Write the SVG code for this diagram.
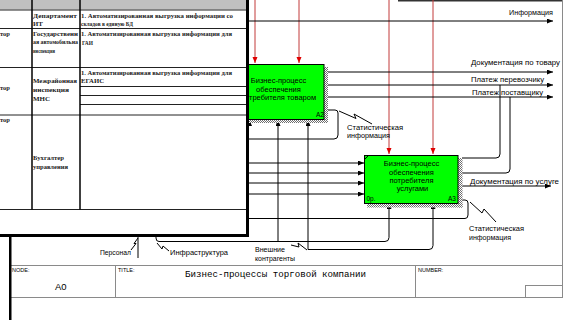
<svg xmlns="http://www.w3.org/2000/svg" width="576" height="320" viewBox="0 0 576 320">
<style>
.ln{fill:none;stroke:#000;stroke-width:1}
.ctl{fill:none;stroke:#c23b3b;stroke-width:1}
.lbl{font-family:"Liberation Sans",Arial,sans-serif;font-size:7.5px;fill:#000}
.box{fill:#00ff00;stroke:#000;stroke-width:1}
.btx{font-family:"Liberation Sans",Arial,sans-serif;font-size:7.5px;fill:#000;text-anchor:middle}
.bno{font-family:"Liberation Sans",Arial,sans-serif;font-size:6.5px;fill:#000}
.frm{fill:none;stroke:#8a8a8a;stroke-width:1}
.sm{font-family:"Liberation Sans",Arial,sans-serif;font-size:5.5px;fill:#000}
.tb{font-family:"Liberation Serif","Times New Roman",serif;font-size:6.8px;font-weight:bold;fill:#1a1a1a}
.grid{stroke:#222;stroke-width:1;fill:none}
.col{stroke:#000;stroke-width:1.5;fill:none}
</style>
<defs>
  <marker id="ah" markerUnits="userSpaceOnUse" markerWidth="7" markerHeight="6" refX="6" refY="2.5" orient="auto">
    <path d="M0,0 L6,2.5 L0,5 z" fill="#000"/>
  </marker>
  <marker id="ahr" markerUnits="userSpaceOnUse" markerWidth="7" markerHeight="6" refX="6" refY="2.5" orient="auto">
    <path d="M0,0 L6,2.5 L0,5 z" fill="#e00000"/>
  </marker>
  <pattern id="hatch" width="2" height="2" patternUnits="userSpaceOnUse">
    <rect width="2" height="2" fill="#fff"/>
    <rect width="1" height="1" fill="#6e6e6e"/>
    <rect x="1" y="1" width="1" height="1" fill="#6e6e6e"/>
  </pattern>
</defs>

<rect width="576" height="320" fill="#fff"/>

<!-- diagram frame and title block -->
<g id="frame">
  <line x1="398" y1="0.8" x2="563" y2="0.8" stroke="#333" stroke-width="1.6"/>
  <line class="frm" x1="562.5" y1="0" x2="562.5" y2="297"/>
  <line class="frm" x1="10" y1="265.5" x2="562.5" y2="265.5"/>
  <line class="frm" x1="10" y1="297.5" x2="562.5" y2="297.5"/>
  <line class="frm" x1="115.5" y1="265.5" x2="115.5" y2="297.5"/>
  <line class="frm" x1="415.5" y1="265.5" x2="415.5" y2="297.5"/>
  <rect class="frm" x="525.5" y="285.5" width="37" height="12"/>
  <text class="sm" x="12" y="272">NODE:</text>
  <text x="55" y="290" font-family="Liberation Sans,Arial,sans-serif" font-size="9.5" fill="#000">A0</text>
  <text class="sm" x="118" y="272">TITLE:</text>
  <text x="185" y="277" font-family="Liberation Mono,Courier New,monospace" font-size="9" fill="#000" textLength="181" lengthAdjust="spacingAndGlyphs">Бизнес-процессы торговой компании</text>
  <text class="sm" x="418" y="272">NUMBER:</text>
</g>

<!-- arrows -->
<g id="connectors">
  <!-- controls -->
  <path class="ctl" d="M255,0 V63" marker-end="url(#ahr)"/>
  <path class="ctl" d="M299,0 V63" marker-end="url(#ahr)"/>
  <path class="ctl" d="M389,0 V154" marker-end="url(#ahr)"/>
  <path class="ctl" d="M433,0 V154" marker-end="url(#ahr)"/>
  <!-- outputs of A2 -->
  <path class="ln" d="M230,21 H553" marker-end="url(#ah)"/>
  <path class="ln" d="M328,72 H553" marker-end="url(#ah)"/>
  <path class="ln" d="M328,85 H553" marker-end="url(#ah)"/>
  <path class="ln" d="M328,97 H553" marker-end="url(#ah)"/>
  <path class="ln" d="M328,110 H335 Q338,110 338,113 V135 Q338,139 334,139 H230"/>
  <!-- links between A3 and the payment arrows -->
  <path class="ln" d="M500,85 V154 Q500,158 496,158 H462"/>
  <path class="ln" d="M510,97 V169 Q510,173 506,173 H462"/>
  <!-- outputs of A3 -->
  <path class="ln" d="M462,186 H551" marker-end="url(#ah)"/>
  <path class="ln" d="M462,200 H465 Q468,200 468,203 V215 Q468,218.5 465,218.5 H230"/>
  <!-- inputs of A3 -->
  <path class="ln" d="M230,163 H364" marker-end="url(#ah)"/>
  <path class="ln" d="M230,173 H364" marker-end="url(#ah)"/>
  <path class="ln" d="M230,183 H364" marker-end="url(#ah)"/>
  <path class="ln" d="M230,194 H364" marker-end="url(#ah)"/>
  <!-- mechanisms -->
  <path class="ln" d="M249.5,126 V120" marker-end="url(#ah)"/>
  <path class="ln" d="M278,241 V120" marker-end="url(#ah)"/>
  <path class="ln" d="M308,249.5 V120" marker-end="url(#ah)"/>
  <path class="ln" d="M156,228 V238 Q156,241.5 159,241.5 H385 Q389,241.5 389,237.5 V203" marker-end="url(#ah)"/>
  <path class="ln" d="M308,249.5 H429 Q433,249.5 433,245.5 V203" marker-end="url(#ah)"/>
  <path class="ln" d="M138,228 V258"/>
  <!-- label squiggles -->
  <path class="ln" d="M339,111 L356,118.5 L354,114 L372,124"/>
  <path class="ln" d="M470,202 L482,213 L484,209 L496,222"/>
  <path class="ln" d="M131,250 L136,243.5 L134,243.5 L138,238"/>
  <path class="ln" d="M157,243 L162,249 L163,246 L169,251"/>
  <path class="ln" d="M291,245 L299,247 L298,243 L307,250"/>
</g>

<!-- arrow labels -->
<g id="labels">
  <text class="lbl" x="509" y="14.5" textLength="44" lengthAdjust="spacingAndGlyphs">Информация</text>
  <text class="lbl" x="471" y="65" textLength="89" lengthAdjust="spacingAndGlyphs">Документация по товару</text>
  <text class="lbl" x="471" y="82" textLength="73" lengthAdjust="spacingAndGlyphs">Платеж перевозчику</text>
  <text class="lbl" x="472" y="95" textLength="71" lengthAdjust="spacingAndGlyphs">Платеж поставщику</text>
  <text class="lbl" x="347" y="130" textLength="56" lengthAdjust="spacingAndGlyphs">Статистическая</text>
  <text class="lbl" x="347" y="138" textLength="43" lengthAdjust="spacingAndGlyphs">информация</text>
  <text class="lbl" x="470" y="184" textLength="89" lengthAdjust="spacingAndGlyphs">Документация по услуге</text>
  <text class="lbl" x="469" y="231" textLength="55" lengthAdjust="spacingAndGlyphs">Статистическая</text>
  <text class="lbl" x="469" y="239.5" textLength="42" lengthAdjust="spacingAndGlyphs">информация</text>
  <text class="lbl" x="100" y="255" textLength="31" lengthAdjust="spacingAndGlyphs">Персонал</text>
  <text class="lbl" x="170" y="254.5" textLength="58" lengthAdjust="spacingAndGlyphs">Инфраструктура</text>
  <text class="lbl" x="255" y="252" textLength="30" lengthAdjust="spacingAndGlyphs">Внешние</text>
  <text class="lbl" x="255" y="260.5" textLength="40" lengthAdjust="spacingAndGlyphs">контрагенты</text>
</g>

<g id="A2">
  <rect x="324" y="67" width="4" height="56" fill="url(#hatch)"/>
  <rect x="236" y="119" width="92" height="4" fill="url(#hatch)"/>
  <rect class="box" x="232.5" y="64.5" width="91.5" height="55"/>
  <text class="btx" x="278.5" y="82.5">Бизнес-процесс</text>
  <text class="btx" x="278.5" y="91.5">обеспечения</text>
  <text class="btx" x="278.5" y="100">потребителя товаром</text>
  <text class="bno" x="316" y="117">A2</text>
</g>

<g id="A3">
  <rect x="458" y="158" width="4.5" height="49.5" fill="url(#hatch)"/>
  <rect x="367" y="203" width="95.5" height="4.5" fill="url(#hatch)"/>
  <rect class="box" x="364.5" y="155.5" width="93.5" height="48"/>
  <path class="ln" d="M364.5,159.5 L368.5,155.5"/>
  <text class="btx" x="411.5" y="165.5">Бизнес-процесс</text>
  <text class="btx" x="411.5" y="174.5">обеспечения</text>
  <text class="btx" x="411.5" y="182.5">потребителя</text>
  <text class="btx" x="412.5" y="190.5">услугами</text>
  <text class="bno" x="366.5" y="201">0р.</text>
  <text class="bno" x="448" y="201">A3</text>
</g>

<!-- document table window lying over the left part -->
<g id="table">
  <rect x="0" y="0" width="247" height="236" fill="#fff"/>
  <rect x="0" y="0" width="246" height="9.5" fill="#c0c0c0"/>
  <g class="grid">
    <line x1="0" y1="10" x2="246" y2="10"/>
    <line x1="0" y1="28.5" x2="246" y2="28.5"/>
    <line x1="0" y1="67.5" x2="246" y2="67.5"/>
    <line x1="80" y1="86.5" x2="246" y2="86.5"/>
    <line x1="80" y1="95.5" x2="246" y2="95.5"/>
    <line x1="80" y1="104.5" x2="246" y2="104.5"/>
    <line x1="0" y1="115" x2="246" y2="115"/>
    <line x1="0" y1="209.5" x2="246" y2="209.5"/>
  </g>
  <g class="col">
    <line x1="32" y1="0" x2="32" y2="209.5"/>
    <line x1="80" y1="0" x2="80" y2="209.5"/>
  </g>
  <g class="tb">
    <text x="33" y="17.5" textLength="44" lengthAdjust="spacingAndGlyphs">Департамент</text>
    <text x="33" y="25.5">ИТ</text>
    <text x="81" y="17.5" textLength="152" lengthAdjust="spacingAndGlyphs">1. Автоматизированная выгрузка информации со</text>
    <text x="81" y="25.5" textLength="52" lengthAdjust="spacingAndGlyphs">складов в единую БД</text>

    <text x="0" y="35.5" textLength="10" lengthAdjust="spacingAndGlyphs">тор</text>
    <text x="33" y="35.5" textLength="45" lengthAdjust="spacingAndGlyphs">Государственн</text>
    <text x="33" y="44" font-size="5.8" textLength="45" lengthAdjust="spacingAndGlyphs">ая автомобильна</text>
    <text x="33" y="53" textLength="22" lengthAdjust="spacingAndGlyphs">инспекция</text>
    <text x="81" y="35.5" textLength="151" lengthAdjust="spacingAndGlyphs">1. Автоматизированная выгрузка информации для</text>
    <text x="82" y="44.5" textLength="11" lengthAdjust="spacingAndGlyphs">ГАИ</text>

    <text x="0" y="89.5" textLength="10" lengthAdjust="spacingAndGlyphs">тор</text>
    <text x="33" y="82.5" textLength="44" lengthAdjust="spacingAndGlyphs">Межрайонная</text>
    <text x="33" y="91.5" textLength="36" lengthAdjust="spacingAndGlyphs">инспекция</text>
    <text x="33" y="101" textLength="17" lengthAdjust="spacingAndGlyphs">МНС</text>
    <text x="81" y="74.5" textLength="151" lengthAdjust="spacingAndGlyphs">1. Автоматизированная выгрузка информации для</text>
    <text x="81" y="82.5" textLength="23" lengthAdjust="spacingAndGlyphs">ЕГАИС</text>

    <text x="0" y="122" textLength="10" lengthAdjust="spacingAndGlyphs">тор</text>
    <text x="33" y="160" textLength="31" lengthAdjust="spacingAndGlyphs">Бухгалтер</text>
    <text x="33" y="169" textLength="35" lengthAdjust="spacingAndGlyphs">управления</text>
  </g>
  <line x1="247.5" y1="0" x2="247.5" y2="237" stroke="#000" stroke-width="3"/>
  <line x1="0" y1="235.5" x2="249" y2="235.5" stroke="#000" stroke-width="3"/>
</g>

<!-- left window edge below the table -->
<rect x="9" y="237" width="2.5" height="83" fill="#000"/>
</svg>
